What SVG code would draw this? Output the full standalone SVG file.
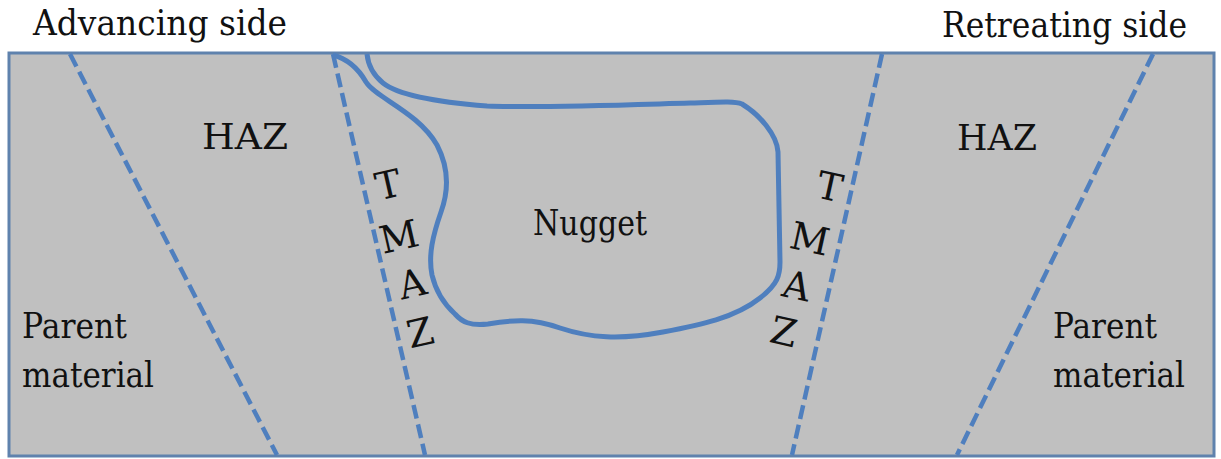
<svg xmlns="http://www.w3.org/2000/svg" width="1221" height="459" viewBox="0 0 1221 459">
<style>
text{font-family:"DejaVu Serif","Liberation Serif",serif}
.lbl{font-size:36px;fill:#111}
.tm{font-size:38px;fill:#111;text-anchor:middle}
.dash{stroke:#4f7fbe;stroke-width:4.5;stroke-dasharray:14 6;fill:none}
.nug{stroke:#4f7fbe;stroke-width:5;fill:none;stroke-linejoin:round}
</style>
<rect width="1221" height="459" fill="#ffffff"/>
<g id="plate">
<rect x="9" y="53" width="1205" height="403" fill="#c0c0c0" stroke="#5f82ad" stroke-width="3"/>
</g>
<g id="connectors">
<line class="dash" x1="70" y1="54" x2="277" y2="455"/>
<line class="dash" x1="333" y1="54" x2="425" y2="455"/>
<line class="dash" x1="882" y1="54" x2="792" y2="455"/>
<line class="dash" x1="1153" y1="54" x2="957" y2="455"/>
</g>
<g id="nugget">
<path class="nug" d="M 333,55 C 348,59 358,68 366,82 C 376,98 418,112 437,145 C 449,168 449,190 441,212 C 433,235 428,255 432,275 C 436,292 445,305 455,314 C 462,322 470,326 488,324 C 512,320 532,318 560,328 C 590,338 620,340 663,332 C 700,325 735,318 760,298 C 778,284 780,275 780,262 L 778,152 C 777,135 760,115 742,104 C 735,101 720,102 690,103 C 620,105 540,108 487,106 C 435,102 397,94 383,83 C 372,74 368,64 367,54"/>
<text class="lbl" x="533" y="235" textLength="114" lengthAdjust="spacingAndGlyphs">Nugget</text>
</g>
<g id="advancing-side">
<text class="lbl" x="33" y="35" textLength="254" lengthAdjust="spacingAndGlyphs">Advancing side</text>
</g>
<g id="retreating-side">
<text class="lbl" x="942" y="37" textLength="245" lengthAdjust="spacingAndGlyphs">Retreating side</text>
</g>
<g id="haz-left">
<text class="lbl" x="202" y="149" textLength="86" lengthAdjust="spacingAndGlyphs">HAZ</text>
</g>
<g id="haz-right">
<text class="lbl" x="957" y="150" textLength="80" lengthAdjust="spacingAndGlyphs">HAZ</text>
</g>
<g id="parent-left">
<text class="lbl" x="22" y="338" textLength="105" lengthAdjust="spacingAndGlyphs">Parent</text>
<text class="lbl" x="22" y="387" textLength="132" lengthAdjust="spacingAndGlyphs">material</text>
</g>
<g id="parent-right">
<text class="lbl" x="1053" y="338" textLength="104" lengthAdjust="spacingAndGlyphs">Parent</text>
<text class="lbl" x="1053" y="387" textLength="132" lengthAdjust="spacingAndGlyphs">material</text>
</g>
<g id="tmaz-left">
<text class="tm" x="388" y="198" transform="rotate(-12.8 388 184)">T</text>
<text class="tm" x="399" y="250" transform="rotate(-12.8 399 236)">M</text>
<text class="tm" x="412" y="297" transform="rotate(-12.8 412 283)">A</text>
<text class="tm" x="420" y="346" transform="rotate(-12.8 420 332)">Z</text>
</g>
<g id="tmaz-right">
<text class="tm" x="830" y="200" transform="rotate(12.5 830 186)">T</text>
<text class="tm" x="810" y="252" transform="rotate(12.5 810 238)">M</text>
<text class="tm" x="797" y="299" transform="rotate(12.5 797 285)">A</text>
<text class="tm" x="784" y="345" transform="rotate(12.5 784 331)">Z</text>
</g>
</svg>
